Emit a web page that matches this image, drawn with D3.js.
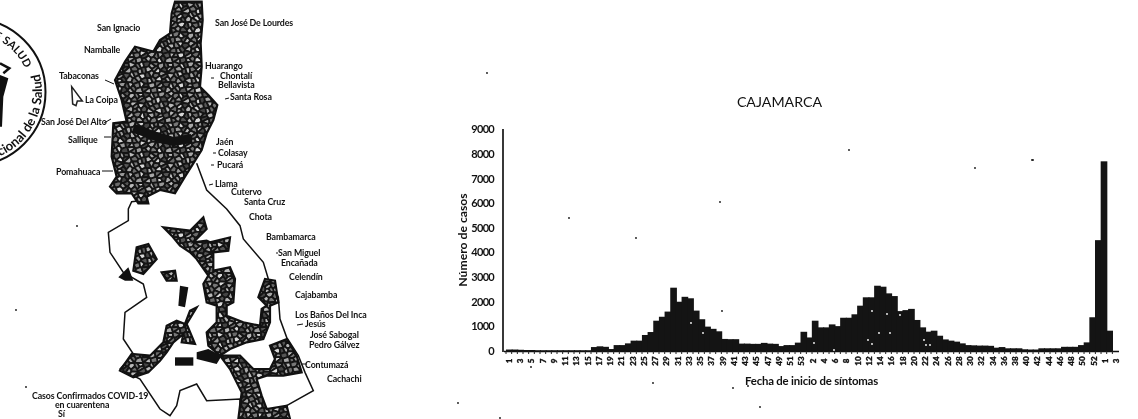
<!DOCTYPE html>
<html><head><meta charset="utf-8">
<script src="https://cdn.jsdelivr.net/npm/d3@7"></script>
<style>
html,body{margin:0;padding:0;background:#fff}
svg{display:block;filter:blur(0.4px)}
text{font-family:Lato,"Open Sans",sans-serif;fill:#111}
</style></head><body>
<svg id="c" width="1138" height="419"></svg>
<script>
const chartTitle = "CAJAMARCA";
const yAxisTitle = "Número de casos";
const xAxisTitle = "Fecha de inicio de síntomas";
const yTicks = [0,1000,2000,3000,4000,5000,6000,7000,8000,9000];
const weeklyCases = [60,60,50,40,40,30,30,30,30,30,30,30,30,30,30,160,190,170,80,240,240,310,420,420,650,770,1230,1390,1600,2570,2000,2200,2140,1640,1290,990,900,800,490,480,480,300,300,290,290,330,300,290,200,240,240,340,780,550,1230,960,960,1080,1010,1350,1350,1490,1840,2180,2180,2650,2610,2340,2230,1620,1660,1710,1260,960,785,825,620,470,420,380,310,240,230,220,220,210,135,160,110,110,110,70,60,60,110,110,110,110,170,170,170,240,350,1370,4500,7700,825];
const weekTicks = ["1","3","5","7","9","11","13","15","17","19","21","23","25","27","29","31","33","35","37","39","41","43","45","47","49","51","53","2","4","6","8","10","12","14","16","18","20","22","24","26","28","30","32","34","36","38","40","42","44","46","48","50","52","1","3"];

// map data (outlines traced in map units)
const northRegion = [[525,5],[605,5],[608,60],[602,130],[605,200],[600,260],[625,285],[652,315],[640,360],[620,400],[605,450],[580,490],[555,530],[525,580],[480,570],[440,590],[445,610],[415,610],[395,580],[350,580],[330,560],[350,530],[335,470],[340,370],[380,365],[365,300],[345,240],[375,185],[405,140],[460,155],[480,120],[510,100],[515,40]];
const outlineEast = [[590,490],[620,570],[680,627],[720,677],[730,717],[790,787],[805,837],[835,892],[840,957],[860,1012],[895,1067],[915,1117],[940,1172],[860,1217],[840,1227]];
const outlineWest = [[440,600],[395,605],[385,627],[385,662],[325,697],[330,757],[370,817],[430,852],[440,892],[375,937],[370,1017],[400,1062],[360,1107],[420,1137],[480,1227],[510,1247],[530,1217],[540,1172],[590,1152],[620,1202],[720,1197],[720,1257]];
const southCells = [
 [[490,682],[570,692],[610,652],[620,687],[580,727],[620,722],[630,727],[690,712],[685,752],[640,757],[640,812],[690,802],[705,837],[700,907],[680,917],[680,947],[730,967],[780,977],[785,927],[800,917],[775,892],[795,837],[825,842],[835,907],[810,917],[810,967],[790,1017],[740,1027],[690,1047],[660,1067],[625,1037],[620,997],[650,967],[650,917],[620,907],[610,852],[625,827],[590,777],[570,757],[540,737],[515,707]],
 [[660,1067],[720,1067],[760,1107],[810,1107],[825,1077],[810,1037],[860,1017],[890,1067],[905,1117],[850,1127],[800,1127],[770,1137],[785,1187],[800,1227],[860,1217],[870,1257],[715,1257],[725,1177],[690,1107]],
 [[410,742],[445,732],[470,777],[430,822],[400,812]],
 [[485,817],[525,812],[530,842],[500,842]],
 [[570,932],[590,922],[560,972],[585,1032],[545,1027],[550,1002],[520,1027],[500,1057],[480,1082],[445,1117],[400,1132],[360,1112],[395,1062],[450,1067],[490,1027],[500,977],[530,962],[555,972]]
];
const southSolid = [
 [[355,832],[385,802],[400,842],[375,842]],
 [[540,857],[565,862],[555,922],[535,917]],
 [[525,1072],[580,1072],[580,1097],[525,1097]],
 [[590,1057],[625,1047],[665,1067],[650,1092],[590,1077]]
];
const placeNames = [
 ["San Ignacio",97,28],["Namballe",84,50],["Tabaconas",59,76],["La Coipa",85,100],["San José Del Alto",41,122],["Sallique",68,140],["Pomahuaca",56,172],
 ["San José De Lourdes",215,23],["Huarango",205,66],["Chontalí",220,76],["Bellavista",218,85],["Santa Rosa",230,97],["Jaén",216,142],["Colasay",218,153],["Pucará",217,165],["Llama",215,184],["Cutervo",231,192],["Santa Cruz",244,202],["Chota",249,217],["Bambamarca",266,237],["San Miguel",278,253],["Encañada",281,263],["Celendín",289,277],["Cajabamba",295,295],["Los Baños Del Inca",295,315],["Jesús",305,324],["José Sabogal",310,335],["Pedro Gálvez",309,345],["Contumazá",305,365],["Cachachi",327,379],
 ["Casos Confirmados COVID-19",32,396],["en cuarentena",55,405],["Sí",58,414]
];
const leaders = [[105,80,114,84],[104,123,111,119],[104,137,111,137],[102,171,113,171],[211,78,214,78],[225,99,229,98],[213,153,216,153],[211,165,214,165],[209,185,213,184],[276,253,278,253],[297,325,303,324],[302,364,307,364]];
const specks = [[569,218],[636,238],[720,202],[722,311],[653,383],[733,388],[531,367],[849,150],[975,168],[1032,160],[1033,160],[487,73],[77,226],[16,310],[26,387],[458,403],[760,407],[748,386],[500,418]];
const whiteFlecks = [[691,323],[703,333],[814,343],[834,350],[872,311],[868,340],[887,314],[879,333],[900,315],[872,344],[890,333],[924,340],[926,345],[930,345]];

const svg = d3.select("#c");
// ---------- chart
const y = d3.scaleLinear().domain([0,9000]).range([351,129.3]);
const x = d3.scaleBand().domain(weeklyCases.map((_,i)=>i)).range([506,1112]).paddingInner(0);
const xt = d3.scalePoint().domain(weekTicks.map((_,i)=>i)).range([509.3,1116.5]);

svg.append("g").selectAll("rect").data(weeklyCases).join("rect")
  .attr("x",(d,i)=>x(i)).attr("width",x.bandwidth()+1)
  .attr("y",d=>y(d)).attr("height",d=>y(0)-y(d)+1).attr("fill","#141414");

svg.append("line").attr("x1",503).attr("x2",503).attr("y1",129).attr("y2",352).attr("stroke","#222").attr("stroke-width",1.8);
svg.append("line").attr("x1",504).attr("x2",1119).attr("y1",351.5).attr("y2",351.5).attr("stroke","#111").attr("stroke-width",1.6);
svg.append("g").selectAll("line").data(d3.range(108)).join("line")
  .attr("x1",i=>506+i*5.667).attr("x2",i=>506+i*5.667).attr("y1",351).attr("y2",354).attr("stroke","#222").attr("stroke-width",1);

svg.append("g").selectAll("text").data(yTicks).join("text")
  .attr("x",494).attr("y",d=>y(d)+4).attr("text-anchor","end")
  .attr("font-size",11).attr("font-weight",700).attr("letter-spacing",-0.7).text(d=>d);
svg.append("g").selectAll("text").data(weekTicks).join("text")
  .attr("transform",(d,i)=>`translate(${xt(i)+2.7},361) rotate(-90)`)
  .attr("text-anchor","middle").attr("font-size",8).attr("font-weight",900).attr("stroke","#111").attr("stroke-width",0.35).text(d=>d);

svg.append("text").attr("x",779.5).attr("y",107).attr("text-anchor","middle").attr("font-size",14.2).text(chartTitle);
svg.append("text").attr("x",811.5).attr("y",385).attr("text-anchor","middle").attr("font-size",11.4).attr("font-weight",700).attr("letter-spacing",-0.2).text(xAxisTitle);
svg.append("text").attr("transform","translate(467,240) rotate(-90)").attr("text-anchor","middle").attr("font-size",12.2).attr("font-weight",700).text(yAxisTitle);

svg.append("g").selectAll("circle").data(whiteFlecks).join("circle")
  .attr("cx",d=>d[0]).attr("cy",d=>d[1]).attr("r",0.9).attr("fill","#fff");

// ---------- map
const mx = d3.scaleLinear().domain([0,1140]).range([0,380]);
const my = d3.scaleLinear().domain([0,1257]).range([0,419]);
const line = d3.line().x(d=>mx(d[0])).y(d=>my(d[1]));
const closed = d3.line().x(d=>mx(d[0])).y(d=>my(d[1])).curve(d3.curveLinearClosed);
const defs = svg.append("defs");

svg.append("path").attr("d",line(outlineEast)).attr("fill","none").attr("stroke","#111").attr("stroke-width",1.5);
svg.append("path").attr("d",line(outlineWest)).attr("fill","none").attr("stroke","#111").attr("stroke-width",1.5);

// district texture: voronoi over a staggered lattice
const jitterX = [1.0,-1.6,0.5,1.8,-0.9,-0.3,1.4,-1.9,0.2];
const jitterY = [-1.3,0.6,1.7,-0.5,1.1,-1.7,0.2,0.8,-0.8];
const greys = ["#9a9a9a","#555","#b8b8b8","#777","#d8d8d8","#444","#a8a8a8","#6a6a6a"];
const lattice = [];
let k = 0;
for (let j=0;j<=84;j++) for (let i=0;i<=43;i++) {
  lattice.push([100+i*4.9+(j%2?2.45:0)+jitterX[k%9], j*5+jitterY[(k*2+j)%9]]); k++;
}
const vor = d3.Delaunay.from(lattice).voronoi([90,-5,330,425]);
function textured(poly,id){
  defs.append("clipPath").attr("id",id).append("path").attr("d",closed(poly));
  const g = svg.append("g").attr("clip-path",`url(#${id})`);
  g.append("path").attr("d",closed(poly)).attr("fill","#141414");
  const xs = d3.extent(poly,p=>mx(p[0])), ys = d3.extent(poly,p=>my(p[1]));
  lattice.forEach((p,i)=>{
    if(p[0]<xs[0]-6||p[0]>xs[1]+6||p[1]<ys[0]-6||p[1]>ys[1]+6) return;
    g.append("path").attr("d",vor.renderCell(i)).attr("fill",greys[i%8]).attr("stroke","#141414").attr("stroke-width",1.8);
  });
  svg.append("path").attr("d",closed(poly)).attr("fill","none").attr("stroke","#111").attr("stroke-width",2.2);
}
textured(northRegion,"n0");
southCells.forEach((p,i)=>textured(p,"s"+i));
// darker band across north region
svg.append("path").attr("d",line([[400,385],[430,395],[470,410],[520,425],[575,415]])).attr("fill","none").attr("stroke","#111").attr("stroke-width",9);
svg.append("g").selectAll("path").data(southSolid).join("path").attr("d",closed).attr("fill","#111");

svg.append("g").selectAll("text").data(placeNames).join("text")
  .attr("x",d=>d[1]).attr("y",d=>d[2]+3).attr("font-size",8.8).attr("font-weight",700).attr("letter-spacing",-0.1).text(d=>d[0]);
svg.append("g").selectAll("line").data(leaders).join("line")
  .attr("x1",d=>d[0]).attr("y1",d=>d[1]).attr("x2",d=>d[2]).attr("y2",d=>d[3]).attr("stroke","#111").attr("stroke-width",1);

// cursor mark
svg.append("path").attr("d",closed([[215,260],[247,303],[232,303],[228,317],[218,312]])).attr("fill","#fff").attr("stroke","#222").attr("stroke-width",1.5);

// ---------- seal
const sealC = [-28,92];
svg.append("circle").attr("cx",sealC[0]).attr("cy",sealC[1]).attr("r",73.5).attr("fill","none").attr("stroke","#111").attr("stroke-width",2);
const arc = (r,a0,a1,sweep)=>{const p=a=>[sealC[0]+r*Math.cos(a*Math.PI/180),sealC[1]+r*Math.sin(a*Math.PI/180)];const s=p(a0),e=p(a1);return `M${s}A${r},${r} 0 0 ${sweep} ${e}`;};
defs.append("path").attr("id","arcUp").attr("d",arc(70,105,-15,0));
defs.append("path").attr("id","arcTop").attr("d",arc(58,-80,-24,1));
svg.append("text").attr("font-size",13).attr("font-weight",700).append("textPath").attr("href","#arcUp").attr("startOffset","100%").attr("text-anchor","end").text("Nacional de la Salud");
svg.append("text").attr("font-size",11).attr("font-weight",700).append("textPath").attr("href","#arcTop").attr("startOffset","100%").attr("text-anchor","end").text("DE SALUD");
svg.append("path").attr("d",closed([[0,225],[25,235],[10,290],[6,380],[0,380]])).attr("fill","#111");
svg.append("path").attr("d",line([[0,190],[28,205],[10,220]])).attr("fill","none").attr("stroke","#111").attr("stroke-width",2.5);

svg.append("g").selectAll("circle").data(specks).join("circle")
  .attr("cx",d=>d[0]).attr("cy",d=>d[1]).attr("r",0.9).attr("fill","#111");
</script></body></html>
